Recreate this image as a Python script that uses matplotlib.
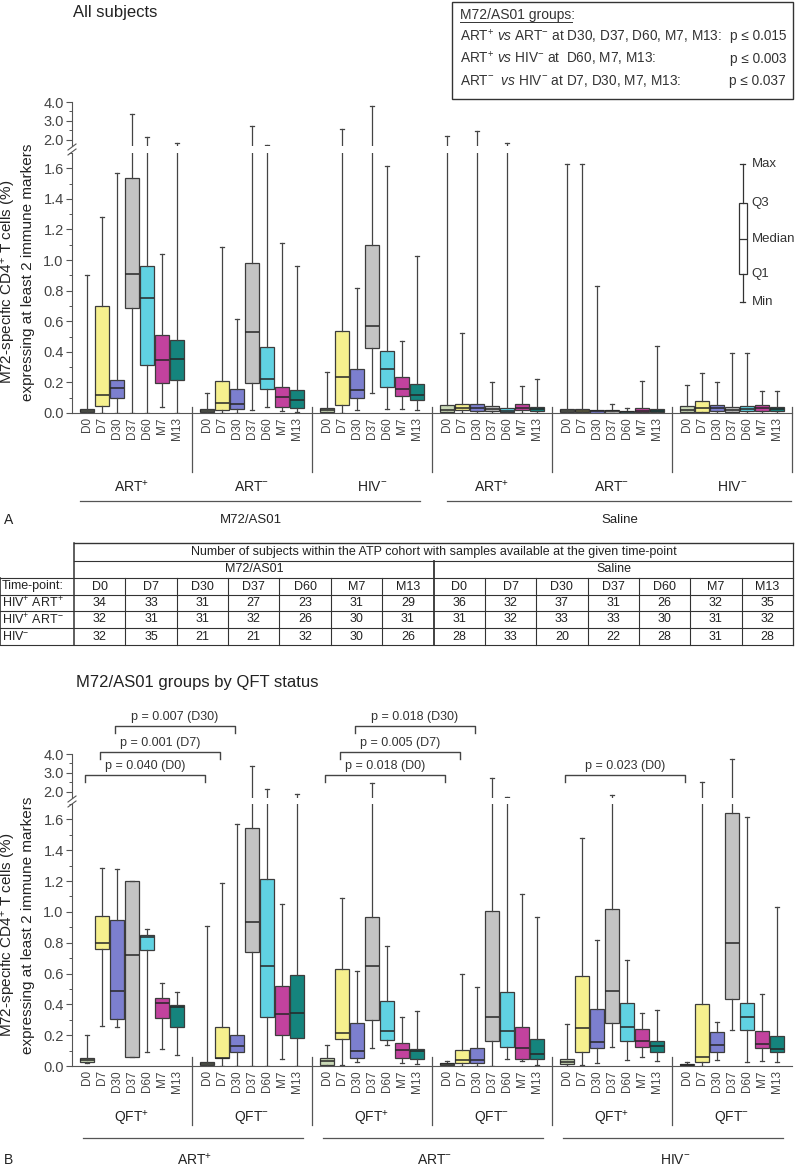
import matplotlib
matplotlib.use('Agg')
import matplotlib.pyplot as plt
import matplotlib.transforms as mtrans
from matplotlib.ticker import MultipleLocator, FixedLocator

plt.rcParams['font.family'] = ['Liberation Sans', 'DejaVu Sans']
plt.rcParams['mathtext.fontset'] = 'custom'
plt.rcParams['mathtext.rm'] = 'Liberation Sans'
plt.rcParams['mathtext.it'] = 'Liberation Sans:italic'
plt.rcParams['mathtext.bf'] = 'Liberation Sans:bold'
NARROW = ['Liberation Sans Narrow', 'Liberation Sans', 'DejaVu Sans']

W, H = 800, 1167

timepoints = ['D0', 'D7', 'D30', 'D37', 'D60', 'M7', 'M13']
tp_colors = ['#c9d8b6', '#f6f08e', '#7c7fcf', '#c4c4c4', '#60d2e2', '#c2429e', '#15847d']

# ---- panel A: all subjects (M72 ART+, ART-, HIV-, Saline ART+, ART-, HIV-)
a_groups = ['ART$^{+}$', 'ART$^{-}$', 'HIV$^{-}$', 'ART$^{+}$', 'ART$^{-}$', 'HIV$^{-}$']
a_min = [[0, 0, 0, 0, 0, 0.04, 0],
         [0, 0, 0, 0.02, 0.04, 0.013, 0.005],
         [0, 0, 0.02, 0.13, 0.026, 0.026, 0.02],
         [0, 0, 0, 0, 0, 0, 0],
         [0, 0, 0, 0, 0, 0, 0],
         [0, 0, 0, 0, 0, 0, 0]]
a_q1 = [[0.004, 0.046, 0.096, 0.684, 0.313, 0.198, 0.215],
        [0.004, 0.017, 0.024, 0.193, 0.156, 0.04, 0.035],
        [0.007, 0.054, 0.098, 0.424, 0.167, 0.11, 0.085],
        [0.004, 0.02, 0.011, 0.015, 0.004, 0.02, 0.015],
        [0.007, 0.007, 0.0, 0.0, 0.0, 0.005, 0.005],
        [0.004, 0.004, 0.01, 0.008, 0.01, 0.01, 0.01]]
a_med = [[0.013, 0.12, 0.163, 0.906, 0.751, 0.345, 0.354],
         [0.013, 0.067, 0.059, 0.53, 0.224, 0.106, 0.085],
         [0.017, 0.233, 0.148, 0.572, 0.289, 0.16, 0.117],
         [0.02, 0.03, 0.03, 0.028, 0.015, 0.035, 0.025],
         [0.015, 0.015, 0.01, 0.01, 0.005, 0.015, 0.015],
         [0.02, 0.03, 0.03, 0.02, 0.025, 0.03, 0.025]]
a_q3 = [[0.028, 0.697, 0.217, 1.535, 0.964, 0.508, 0.476],
        [0.028, 0.208, 0.16, 0.979, 0.432, 0.17, 0.15],
        [0.033, 0.533, 0.287, 1.098, 0.407, 0.237, 0.189],
        [0.05, 0.059, 0.059, 0.046, 0.035, 0.056, 0.041],
        [0.028, 0.028, 0.02, 0.02, 0.015, 0.033, 0.028],
        [0.045, 0.076, 0.05, 0.037, 0.045, 0.054, 0.041]]
a_max = [[0.903, 1.28, 1.566, 3.35, 2.15, 1.04, 1.85],
         [0.13, 1.084, 0.612, 2.72, 1.72, 1.11, 0.964],
         [0.27, 2.57, 0.815, 3.79, 1.615, 0.47, 1.025],
         [2.2, 0.525, 2.45, 0.2, 1.85, 0.178, 0.22],
         [1.63, 1.63, 0.83, 0.06, 0.035, 0.21, 0.44],
         [0.18, 0.26, 0.2, 0.39, 0.39, 0.145, 0.145]]

# key box (Max / Q3 / Median / Q1 / Min)
key_labels = ['Max', 'Q3', 'Median', 'Q1', 'Min']
key_values = [1.63, 1.375, 1.14, 0.912, 0.725]

# ---- panel B: M72/AS01 groups by QFT status
b_groups = ['QFT$^{+}$', 'QFT$^{-}$'] * 3
b_cohorts = ['ART$^{+}$', 'ART$^{-}$', 'HIV$^{-}$']
b_min = [[0.017, 0.26, 0.25, 0.06, 0.09, 0.11, 0.072],
         [0, 0, 0, 0, 0, 0.043, 0],
         [0, 0.006, 0.024, 0.115, 0.137, 0.017, 0.012],
         [0, 0, 0, 0, 0.043, 0.03, 0.006],
         [0, 0.006, 0.017, 0.126, 0.039, 0.056, 0.032],
         [0, 0, 0.039, 0.234, 0.028, 0.035, 0.024]]
b_q1 = [[0.024, 0.761, 0.304, 0.06, 0.75, 0.31, 0.256],
        [0.004, 0.05, 0.089, 0.737, 0.317, 0.2, 0.18],
        [0.006, 0.176, 0.054, 0.299, 0.169, 0.05, 0.045],
        [0.004, 0.017, 0.02, 0.162, 0.126, 0.048, 0.043],
        [0.011, 0.089, 0.119, 0.277, 0.165, 0.126, 0.089],
        [0.004, 0.024, 0.093, 0.433, 0.234, 0.115, 0.089]]
b_med = [[0.04, 0.80, 0.488, 0.718, 0.84, 0.41, 0.386],
         [0.013, 0.054, 0.132, 0.933, 0.65, 0.338, 0.345],
         [0.035, 0.217, 0.098, 0.651, 0.228, 0.104, 0.1],
         [0.01, 0.04, 0.04, 0.316, 0.225, 0.115, 0.078],
         [0.028, 0.245, 0.158, 0.487, 0.255, 0.165, 0.13],
         [0.009, 0.06, 0.136, 0.80, 0.316, 0.143, 0.11]]
b_q3 = [[0.054, 0.972, 0.95, 1.2, 0.848, 0.44, 0.393],
        [0.024, 0.252, 0.204, 1.545, 1.215, 0.516, 0.592],
        [0.054, 0.629, 0.278, 0.965, 0.425, 0.152, 0.11],
        [0.017, 0.104, 0.115, 1.006, 0.48, 0.255, 0.175],
        [0.043, 0.584, 0.368, 1.02, 0.411, 0.238, 0.165],
        [0.015, 0.4, 0.223, 1.643, 0.411, 0.227, 0.195]]
b_max = [[0.2, 1.286, 1.28, 1.2, 0.89, 0.54, 0.48],
         [0.907, 1.189, 1.57, 3.35, 2.15, 1.05, 1.9],
         [0.137, 1.087, 0.618, 2.47, 0.781, 0.315, 0.357],
         [0.03, 0.6, 0.51, 2.74, 1.75, 1.115, 0.97],
         [0.27, 1.478, 0.818, 1.85, 0.688, 0.346, 0.364],
         [0.024, 2.53, 0.288, 3.74, 1.617, 0.468, 1.03]]

# significance brackets: (left group, right group, time-point index, text)
b_tests = [(0, 1, 0, 'p = 0.040 (D0)'), (0, 1, 1, 'p = 0.001 (D7)'), (0, 1, 2, 'p = 0.007 (D30)'),
           (2, 3, 0, 'p = 0.018 (D0)'), (2, 3, 1, 'p = 0.005 (D7)'), (2, 3, 2, 'p = 0.018 (D30)'),
           (4, 5, 0, 'p = 0.023 (D0)')]
bracket_y = [775, 752, 726]

# ---- table
tbl_rows = ['HIV$^{+}$ ART$^{+}$', 'HIV$^{+}$ ART$^{-}$', 'HIV$^{-}$']
tbl_m72 = [[34, 33, 31, 27, 23, 31, 29],
           [32, 31, 31, 32, 26, 30, 31],
           [32, 35, 21, 21, 32, 30, 26]]
tbl_saline = [[36, 32, 37, 31, 26, 32, 35],
              [31, 32, 33, 33, 30, 31, 32],
              [28, 33, 20, 22, 28, 31, 28]]

legend_lines = [('ART$^{+}$ $\\mathit{vs}$ ART$^{-}$ at D30, D37, D60, M7, M13:', 'p ≤ 0.015'),
                ('ART$^{+}$ $\\mathit{vs}$ HIV$^{-}$ at  D60, M7, M13:', 'p ≤ 0.003'),
                ('ART$^{-}$  $\\mathit{vs}$ HIV$^{-}$ at D7, D30, M7, M13:', 'p ≤ 0.037')]

YLABEL1 = 'M72-specific CD4$^{+}$ T cells (%)'
YLABEL2 = 'expressing at least 2 immune markers'
TXT = '#333333'
EDGE = '#3c3c3c'


def rect(l, t, r, b):
    return [l / W, 1 - b / H, (r - l) / W, (b - t) / H]


def draw_boxes(axes, mins, q1s, meds, q3s, maxs):
    for g in range(len(mins)):
        stats = [dict(whislo=mins[g][t], q1=q1s[g][t], med=meds[g][t], q3=q3s[g][t],
                      whishi=maxs[g][t], fliers=[]) for t in range(len(timepoints))]
        pos = [8 * g + 1 + t for t in range(len(timepoints))]
        for ax in axes:
            art = ax.bxp(stats, positions=pos, widths=0.95, patch_artist=True, showfliers=False,
                         manage_ticks=False, capwidths=0.3,
                         boxprops=dict(edgecolor=EDGE, linewidth=0.9),
                         medianprops=dict(color='#262626', linewidth=1.1),
                         whiskerprops=dict(color='#444444', linewidth=0.9),
                         capprops=dict(color='#444444', linewidth=0.9))
            for patch, c in zip(art['boxes'], tp_colors):
                patch.set_facecolor(c)


def style_axes(lo, hi):
    for ax in (lo, hi):
        ax.set_xlim(0, 48)
        for s in ('top', 'right'):
            ax.spines[s].set_visible(False)
        ax.spines['left'].set_color('#555555')
        ax.tick_params(axis='y', direction='out', length=4, width=0.8, color='#555555',
                       labelsize=10.5, labelcolor='#444444', pad=2)
        ax.tick_params(axis='y', which='minor', direction='out', length=2.5, width=0.7, color='#555555')
    lo.set_ylim(0, 1.70)
    lo.yaxis.set_major_locator(FixedLocator([0, 0.2, 0.4, 0.6, 0.8, 1.0, 1.2, 1.4, 1.6]))
    lo.yaxis.set_minor_locator(MultipleLocator(0.1))
    lo.yaxis.set_major_formatter(plt.FuncFormatter(lambda v, p: '%.1f' % v))
    lo.spines['bottom'].set_color('#555555')
    lo.set_xticks([8 * g + 1 + t for g in range(6) for t in range(7)])
    lo.set_xticklabels(timepoints * 6, rotation=90, fontsize=8.5, color='#444444')
    lo.tick_params(axis='x', length=0, pad=3)
    hi.set_ylim(1.68, 4.0)
    hi.yaxis.set_major_locator(FixedLocator([2.0, 3.0, 4.0]))
    hi.yaxis.set_minor_locator(FixedLocator([2.5, 3.5]))
    hi.yaxis.set_major_formatter(plt.FuncFormatter(lambda v, p: '%.1f' % v))
    hi.spines['bottom'].set_visible(False)
    hi.set_xticks([])


fig = plt.figure(figsize=(W / 100, H / 100), dpi=100)

lowA = fig.add_axes(rect(72, 153, 792, 413))
upA = fig.add_axes(rect(72, 102, 792, 146))
lowB = fig.add_axes(rect(72, 804, 792, 1066))
upB = fig.add_axes(rect(72, 754, 792, 798))

draw_boxes((lowA, upA), a_min, a_q1, a_med, a_q3, a_max)
draw_boxes((lowB, upB), b_min, b_q1, b_med, b_q3, b_max)
style_axes(lowA, upA)
style_axes(lowB, upB)

# key box in panel A
kst = [dict(whishi=key_values[0], q3=key_values[1], med=key_values[2], q1=key_values[3],
            whislo=key_values[4], fliers=[])]
lowA.bxp(kst, positions=[44.71], widths=0.55, patch_artist=True, showfliers=False, manage_ticks=False,
         capwidths=0.3, boxprops=dict(edgecolor='#333333', facecolor='white', linewidth=0.9),
         medianprops=dict(color='#333333', linewidth=0.9), whiskerprops=dict(color='#333333', linewidth=0.9),
         capprops=dict(color='#333333', linewidth=0.9))
for lab, v in zip(key_labels, key_values):
    lowA.text(45.3, v, lab, fontsize=9.5, color=TXT, va='center', ha='left')

# overlay in pixel coordinates
ov = fig.add_axes([0, 0, 1, 1])
ov.set_xlim(0, W)
ov.set_ylim(H, 0)
ov.axis('off')
ov.set_autoscale_on(False)
trA = mtrans.blended_transform_factory(lowA.transData, ov.transData)
trB = mtrans.blended_transform_factory(lowB.transData, ov.transData)

# titles and panel letters
ov.text(73, 12, 'All subjects', fontsize=12, color='#222222', va='center')
ov.text(76, 682, 'M72/AS01 groups by QFT status', fontsize=12, color='#222222', va='center')
ov.text(4, 520, 'A', fontsize=10, color='#222222', va='center')
ov.text(4, 1160, 'B', fontsize=10, color='#222222', va='center')

# y labels
for yc in (272, 925):
    ov.text(9, yc + 10, YLABEL1, rotation=90, fontsize=11, color='#222222', ha='center', va='center')
    ov.text(28, yc, YLABEL2, rotation=90, fontsize=11, color='#222222', ha='center', va='center')

# axis break marks
for y0 in (102 + 44, 754 + 44):
    for dy in (0, 5):
        ov.plot([68, 76], [y0 + 4 + dy, y0 - 2 + dy], color='#555555', lw=0.8, clip_on=False)

# legend box (p-values)
ov.add_patch(plt.Rectangle((452, 2), 341, 97, fill=False, edgecolor='#333333', lw=1.0))
ov.text(460, 15, 'M72/AS01 groups:', fontsize=10, color=TXT, va='center')
ov.plot([460, 572], [21.5, 21.5], color=TXT, lw=0.7)
for i, (left, right) in enumerate(legend_lines):
    yy = 36 + i * 22.5
    ov.text(460, yy, left, fontsize=9.8, color=TXT, va='center')
    ov.text(786, yy, right, fontsize=9.8, color=TXT, va='center', ha='right')

# panel A group annotations
for u in (8, 16, 24, 32, 40, 48):
    ov.plot([u, u], [407, 472], transform=trA, color='#555555', lw=0.9)
for g, lab in enumerate(a_groups):
    ov.text(8 * g + 4, 487, lab, transform=trA, fontsize=10, family=NARROW, color='#222222',
            ha='center', va='center')
ov.plot([0.5, 23.2], [501, 501], transform=trA, color='#555555', lw=0.9)
ov.plot([25.0, 47.9], [501, 501], transform=trA, color='#555555', lw=0.9)
ov.text(11.9, 520, 'M72/AS01', transform=trA, fontsize=9.5, family=NARROW, color='#222222',
        ha='center', va='center')
ov.text(36.5, 520, 'Saline', transform=trA, fontsize=9.5, family=NARROW, color='#222222',
        ha='center', va='center')

# panel B group annotations
for u in (8, 16, 24, 32, 40):
    ov.plot([u, u], [1057, 1125], transform=trB, color='#555555', lw=0.9)
for g, lab in enumerate(b_groups):
    ov.text(8 * g + 4, 1118, lab, transform=trB, fontsize=10, family=NARROW, color='#222222',
            ha='center', va='center')
for c, lab in enumerate(b_cohorts):
    ov.plot([16 * c + 0.7, 16 * c + 15.4], [1138, 1138], transform=trB, color='#555555', lw=0.9)
    ov.text(16 * c + 8.2, 1160, lab, transform=trB, fontsize=10, family=NARROW, color='#222222',
            ha='center', va='center')

# significance brackets
for gl, gr, t, txt in b_tests:
    xl = 8 * gl + 1 + t - 0.15
    xr = 8 * gr + 1 + t - 0.15
    yb = bracket_y[t]
    ov.plot([xl, xl, xr, xr], [yb + 7, yb, yb, yb + 7], transform=trB, color='#444444', lw=1.0)
    ov.text((xl + xr) / 2, yb - 9, txt, transform=trB, fontsize=9, color=TXT, ha='center', va='center')

# table
tx0, tx1, tsplit = 74, 793, 434
cw = (tx1 - tx0) / 14
ry = [543, 561, 578, 595, 611, 628, 645]
lc = '#333333'
ov.plot([tx0, tx1], [ry[0], ry[0]], color=lc, lw=1.0)
ov.plot([tx0, tx1], [ry[1], ry[1]], color=lc, lw=0.8)
for y in ry[2:]:
    ov.plot([0, tx1], [y, y], color=lc, lw=0.8)
ov.plot([tx0, tx0], [ry[0], ry[-1]], color=lc, lw=1.1)
ov.plot([tx1, tx1], [ry[0], ry[-1]], color=lc, lw=0.9)
ov.plot([0, 0], [ry[2], ry[-1]], color=lc, lw=1.2)
ov.plot([tsplit, tsplit], [ry[1], ry[-1]], color=lc, lw=1.3)
for i in range(1, 14):
    if i != 7:
        ov.plot([tx0 + i * cw] * 2, [ry[2], ry[-1]], color=lc, lw=0.8)
tfs = 9
ov.text((tx0 + tx1) / 2, (ry[0] + ry[1]) / 2,
        'Number of subjects within the ATP cohort with samples available at the given time-point',
        fontsize=tfs, family=NARROW, color='#222222', ha='center', va='center')
ov.text((tx0 + tsplit) / 2, (ry[1] + ry[2]) / 2, 'M72/AS01', fontsize=tfs, family=NARROW,
        color='#222222', ha='center', va='center')
ov.text((tsplit + tx1) / 2, (ry[1] + ry[2]) / 2, 'Saline', fontsize=tfs, family=NARROW,
        color='#222222', ha='center', va='center')
ov.text(2, (ry[2] + ry[3]) / 2, 'Time-point:', fontsize=tfs, family=NARROW, color='#222222', va='center')
for i in range(14):
    ov.text(tx0 + (i + 0.5) * cw, (ry[2] + ry[3]) / 2, timepoints[i % 7], fontsize=tfs, family=NARROW,
            color='#222222', ha='center', va='center')
for r, lab in enumerate(tbl_rows):
    yc = (ry[3 + r] + ry[4 + r]) / 2
    ov.text(2, yc, lab, fontsize=tfs, family=NARROW, color='#222222', va='center')
    vals = tbl_m72[r] + tbl_saline[r]
    for i, v in enumerate(vals):
        ov.text(tx0 + (i + 0.5) * cw, yc, str(v), fontsize=tfs, family=NARROW, color='#222222',
                ha='center', va='center')

fig.savefig('out.png', dpi=100)
